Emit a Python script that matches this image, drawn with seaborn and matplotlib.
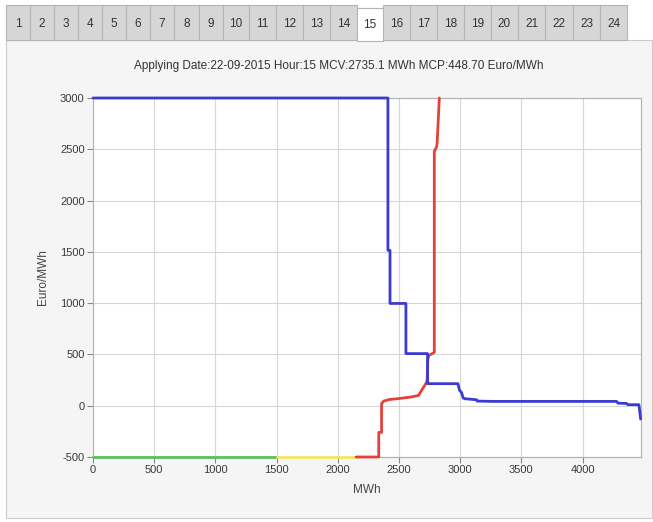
import matplotlib
matplotlib.use("Agg")
import matplotlib.pyplot as plt
from matplotlib.patches import Rectangle
import seaborn as sns
import pandas as pd

# ---------------- data ----------------
title_text = "Applying Date:22-09-2015 Hour:15 MCV:2735.1 MWh MCP:448.70 Euro/MWh"
tab_labels = [str(i) for i in range(1, 25)]
selected_tab = "15"

# demand curve (blue) breakpoints
demand_x = [0, 2410, 2410, 2427, 2427, 2557, 2557, 2734, 2734, 2982, 2995, 3011, 3025,
            3040, 3134, 3140, 3268, 4278, 4290, 4360, 4370, 4461, 4475]
demand_y = [3000, 3000, 1515, 1515, 997, 997, 508, 508, 215, 215, 150, 130, 75,
            68, 58, 45, 42, 42, 25, 22, 10, 10, -130]

# supply curve, green part
supply_green_x = [0, 1500]
supply_green_y = [-500, -500]
# supply curve, yellow part
supply_yellow_x = [1500, 2150]
supply_yellow_y = [-500, -500]
# supply curve, red part
supply_red_x = [2150, 2335, 2335, 2358, 2358, 2375, 2420, 2500, 2600, 2660, 2690,
                2712, 2730, 2736, 2745, 2789, 2789, 2808, 2812, 2830]
supply_red_y = [-500, -500, -260, -260, 20, 45, 60, 70, 85, 100, 160,
                200, 240, 450, 490, 520, 2480, 2525, 2560, 3000]

x_ticks = [0, 500, 1000, 1500, 2000, 2500, 3000, 3500, 4000]
y_ticks = [-500, 0, 500, 1000, 1500, 2000, 2500, 3000]

# ---------------- figure ----------------
sns.set_theme(style="white")
plt.rcParams["font.family"] = ["Liberation Sans", "DejaVu Sans"]
plt.rcParams["axes.unicode_minus"] = False

W, H = 653, 522
fig = plt.figure(figsize=(W / 100, H / 100), dpi=100)
fig.patch.set_facecolor("white")


def fx(px):
    return px / W


def fy(py):
    return 1 - py / H


# outer panel
fig.add_artist(Rectangle((fx(6), fy(518)), fx(652) - fx(6), fy(40) - fy(518),
                         transform=fig.transFigure, facecolor="#f5f5f5",
                         edgecolor="#cccccc", linewidth=0.8, zorder=0))

# tabs
borders = [6, 30, 54, 78, 102, 126, 150, 174, 199, 223, 249, 276, 303, 330,
           357, 383, 410, 437, 464, 491, 518, 545, 573, 600, 627]
for i, lab in enumerate(tab_labels):
    x0, x1 = borders[i], borders[i + 1]
    sel = lab == selected_tab
    top = 8 if sel else 5
    bot = 41 if sel else 40
    fig.add_artist(Rectangle((fx(x0), fy(bot)), fx(x1) - fx(x0), fy(top) - fy(bot),
                             transform=fig.transFigure,
                             facecolor="white" if sel else "#d6d6d6",
                             edgecolor="#b4b4b4", linewidth=0.8, zorder=1))
    fig.text(fx((x0 + x1) / 2), fy(24 if not sel else 25), lab, ha="center",
             va="center", fontsize=8.5, color="#333333", zorder=2)

ax = fig.add_axes([fx(93), fy(457), fx(641) - fx(93), fy(98) - fy(457)])
ax.set_facecolor("white")

df_d = pd.DataFrame({"x": demand_x, "y": demand_y})
df_g = pd.DataFrame({"x": supply_green_x, "y": supply_green_y})
df_yl = pd.DataFrame({"x": supply_yellow_x, "y": supply_yellow_y})
df_r = pd.DataFrame({"x": supply_red_x, "y": supply_red_y})

kw = dict(sort=False, estimator=None, linewidth=2.0, ax=ax, legend=False)
sns.lineplot(data=df_g, x="x", y="y", color="#5cbf5c", **kw)
sns.lineplot(data=df_yl, x="x", y="y", color="#f2e46a", **kw)
sns.lineplot(data=df_r, x="x", y="y", color="#e4413a", **kw)
sns.lineplot(data=df_d, x="x", y="y", color="#3b3bd4", **kw)
for ln in ax.lines:
    ln.set_clip_on(False)
    ln.set_zorder(3)

ax.set_xlim(0, 4478)
ax.set_ylim(-500, 3000)
ax.set_xticks(x_ticks)
ax.set_yticks(y_ticks)
ax.grid(True, color="#d6d6d6", linewidth=0.8)
ax.set_axisbelow(True)
for s in ax.spines.values():
    s.set_color("#b0b0b0")
    s.set_linewidth(0.8)
    s.set_zorder(2.5)
ax.tick_params(axis="both", direction="out", length=4, width=0.8, color="#888888",
               labelsize=8, labelcolor="#3a3a3a", pad=2, bottom=True, left=True)
ax.set_xlabel("MWh", fontsize=8.5, color="#444444", labelpad=6)
ax.set_ylabel("Euro/MWh", fontsize=8.5, color="#444444", labelpad=8)

fig.text(fx(339), fy(66), title_text, ha="center", va="center", fontsize=8.5,
         color="#333333")

fig.savefig("out.png", dpi=100, facecolor=fig.get_facecolor())
